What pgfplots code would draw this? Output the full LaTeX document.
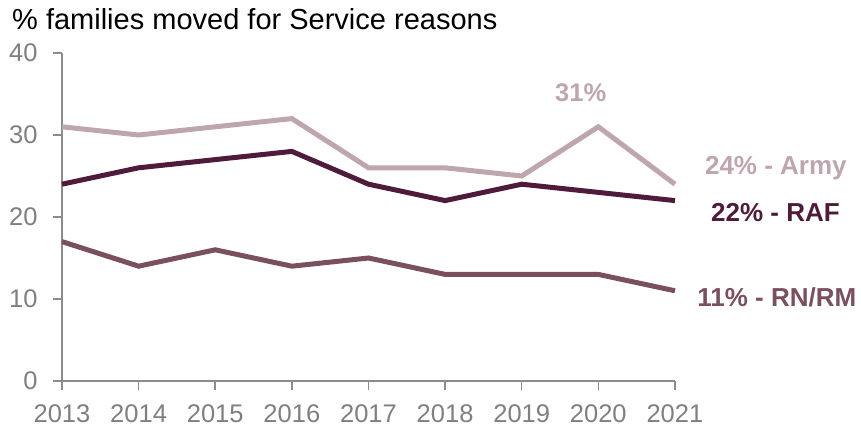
\documentclass[border=0pt]{standalone}
\usepackage{pgfplots}
\pgfplotsset{compat=1.18}
\usepackage{fontspec}
\setmainfont{Liberation Sans}
\definecolor{army}{HTML}{BEA7AC}
\definecolor{raf}{HTML}{4F1B3A}
\definecolor{rn}{HTML}{7B505E}
\definecolor{axgray}{HTML}{8C8C8C}
\definecolor{tickgray}{HTML}{7F7F7F}
\begin{document}
\begin{tikzpicture}
\begin{axis}[
  scale only axis,
  width=613bp, height=328bp,
  xmin=2013, xmax=2021, ymin=0, ymax=40,
  xtick={2013,...,2021}, ytick={0,10,20,30,40},
  axis x line*=bottom, axis y line*=left,
  axis line style={axgray, line width=1.5bp, -},
  tick style={axgray, line width=1.5bp},
  tick align=outside, major tick length=9bp,
  /pgf/number format/assume math mode=true,
  /pgf/number format/1000 sep={},
  ticklabel style={font=\fontsize{25.5bp}{29bp}\selectfont, text=tickgray},
  xticklabel style={yshift=-11bp},
  yticklabel style={xshift=-12bp},
  clip=false,
  every axis plot/.append style={line width=5bp, line join=miter, line cap=butt},
]
\addplot[army] coordinates {(2013,31)(2014,30)(2015,31)(2016,32)(2017,26)(2018,26)(2019,25)(2020,31)(2021,24)};
\addplot[raf] coordinates {(2013,24)(2014,26)(2015,27)(2016,28)(2017,24)(2018,22)(2019,24)(2020,23)(2021,22)};
\addplot[rn] coordinates {(2013,17)(2014,14)(2015,16)(2016,14)(2017,15)(2018,13)(2019,13)(2020,13)(2021,11)};
\node[anchor=west, text=army, font=\fontsize{26bp}{30bp}\selectfont\bfseries, inner sep=0pt] at (axis cs:2021.39,25.98) {24\% - Army};
\node[anchor=west, text=raf, font=\fontsize{26bp}{30bp}\selectfont\bfseries, inner sep=0pt] at (axis cs:2021.47,20.6) {22\% - RAF};
\node[anchor=west, text=rn, font=\fontsize{26bp}{30bp}\selectfont\bfseries, inner sep=0pt] at (axis cs:2021.29,10.24) {11\% - RN/RM};
\node[anchor=center, text=army, font=\fontsize{25.5bp}{29bp}\selectfont\bfseries, inner sep=0pt] at (axis cs:2019.77,35.2) {31\%};
\end{axis}
\node[anchor=base west, inner sep=0pt, font=\fontsize{29bp}{33bp}\selectfont] at (-50bp,351bp) {\% families moved for Service reasons};
\useasboundingbox (-62bp,-46bp) rectangle (799bp,381bp);
\end{tikzpicture}
\end{document}
